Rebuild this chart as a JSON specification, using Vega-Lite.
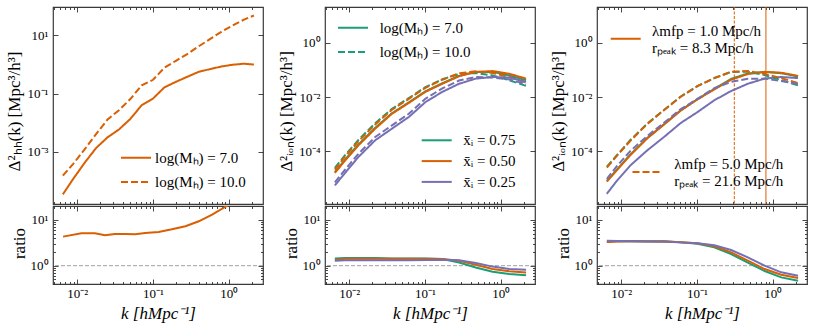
{
"$schema":"https://vega.github.io/schema/vega-lite/v6.json",
"padding":{"left":4,"top":5,"right":5,"bottom":5},
"background":"white",
"config":{
 "font":"Liberation Serif",
 "view":{"stroke":"#3a3a3a","strokeWidth":1.2},
 "axis":{"domain":false,"grid":false,"tickColor":"#333","tickWidth":0.9,"labelFont":"Liberation Serif","labelFontSize":13,"labelColor":"#000","labelPadding":10,"labelFlush":false,"labelOverlap":false,"titleFont":"Liberation Serif","titleFontSize":17,"titleFontWeight":"normal","titleColor":"#000","titleBaseline":"middle"},
 "axisBottom":{"labelPadding":8},
 "legend":{"labelFont":"Liberation Serif","labelFontSize":15,"labelColor":"#000","padding":0,"labelLimit":300}
},
"datasets":{
"p1":[
{"k":0.00646,"v":3.55e-5,"logM":"7.0"},{"k":0.00891,"v":1.23e-4,"logM":"7.0"},{"k":0.0126,"v":4.37e-4,"logM":"7.0"},{"k":0.0178,"v":1.38e-3,"logM":"7.0"},{"k":0.0251,"v":3.16e-3,"logM":"7.0"},{"k":0.0355,"v":5.89e-3,"logM":"7.0"},{"k":0.0501,"v":0.0135,"logM":"7.0"},{"k":0.0708,"v":0.0398,"logM":"7.0"},{"k":0.1,"v":0.0676,"logM":"7.0"},{"k":0.141,"v":0.162,"logM":"7.0"},{"k":0.2,"v":0.251,"logM":"7.0"},{"k":0.282,"v":0.372,"logM":"7.0"},{"k":0.398,"v":0.55,"logM":"7.0"},{"k":0.562,"v":0.682,"logM":"7.0"},{"k":0.794,"v":0.838,"logM":"7.0"},{"k":1.122,"v":0.966,"logM":"7.0"},{"k":1.585,"v":1.047,"logM":"7.0"},{"k":2.138,"v":0.977,"logM":"7.0"},
{"k":0.00646,"v":1.55e-4,"logM":"10.0"},{"k":0.00891,"v":3.98e-4,"logM":"10.0"},{"k":0.0126,"v":1.26e-3,"logM":"10.0"},{"k":0.0178,"v":4.17e-3,"logM":"10.0"},{"k":0.0251,"v":0.0129,"logM":"10.0"},{"k":0.0355,"v":0.0269,"logM":"10.0"},{"k":0.0501,"v":0.0646,"logM":"10.0"},{"k":0.0708,"v":0.1905,"logM":"10.0"},{"k":0.1,"v":0.295,"logM":"10.0"},{"k":0.141,"v":0.759,"logM":"10.0"},{"k":0.2,"v":1.318,"logM":"10.0"},{"k":0.282,"v":2.239,"logM":"10.0"},{"k":0.398,"v":4.074,"logM":"10.0"},{"k":0.562,"v":7.244,"logM":"10.0"},{"k":0.794,"v":12.88,"logM":"10.0"},{"k":1.122,"v":21.38,"logM":"10.0"},{"k":1.585,"v":33.88,"logM":"10.0"},{"k":2.138,"v":46.77,"logM":"10.0"}
],
"r1":[
{"k":0.0065,"r":4.32},{"k":0.01135,"r":5.1},{"k":0.0171,"r":5.1},{"k":0.0232,"r":4.62},{"k":0.0315,"r":4.94},{"k":0.0428,"r":4.94},{"k":0.0581,"r":4.86},{"k":0.0787,"r":5.2},{"k":0.1183,"r":5.47},{"k":0.1774,"r":6.25},{"k":0.2673,"r":7.28},{"k":0.401,"r":9.35},{"k":0.601,"r":13.09},{"k":0.906,"r":19.5},{"k":1.413,"r":29.5}
],
"p2":[
{"k":0.00646,"v":1.66e-5,"xi":"0.75","logM":"7.0"},{"k":0.00881,"v":4.79e-5,"xi":"0.75","logM":"7.0"},{"k":0.0132,"v":1.738e-4,"xi":"0.75","logM":"7.0"},{"k":0.022,"v":7.24e-4,"xi":"0.75","logM":"7.0"},{"k":0.0366,"v":2.51e-3,"xi":"0.75","logM":"7.0"},{"k":0.061,"v":6.31e-3,"xi":"0.75","logM":"7.0"},{"k":0.101,"v":0.0162,"xi":"0.75","logM":"7.0"},{"k":0.169,"v":0.0324,"xi":"0.75","logM":"7.0"},{"k":0.281,"v":0.0603,"xi":"0.75","logM":"7.0"},{"k":0.467,"v":0.0851,"xi":"0.75","logM":"7.0"},{"k":0.778,"v":0.0851,"xi":"0.75","logM":"7.0"},{"k":1.29,"v":0.0631,"xi":"0.75","logM":"7.0"},{"k":2.15,"v":0.0417,"xi":"0.75","logM":"7.0"},
{"k":0.00646,"v":2.4e-5,"xi":"0.75","logM":"10.0"},{"k":0.00881,"v":7.08e-5,"xi":"0.75","logM":"10.0"},{"k":0.0132,"v":2.57e-4,"xi":"0.75","logM":"10.0"},{"k":0.022,"v":1.072e-3,"xi":"0.75","logM":"10.0"},{"k":0.0366,"v":3.63e-3,"xi":"0.75","logM":"10.0"},{"k":0.061,"v":9.12e-3,"xi":"0.75","logM":"10.0"},{"k":0.101,"v":0.0232,"xi":"0.75","logM":"10.0"},{"k":0.169,"v":0.0454,"xi":"0.75","logM":"10.0"},{"k":0.281,"v":0.0708,"xi":"0.75","logM":"10.0"},{"k":0.467,"v":0.0776,"xi":"0.75","logM":"10.0"},{"k":0.778,"v":0.0631,"xi":"0.75","logM":"10.0"},{"k":1.29,"v":0.0417,"xi":"0.75","logM":"10.0"},{"k":2.15,"v":0.0257,"xi":"0.75","logM":"10.0"},
{"k":0.00646,"v":1.549e-5,"xi":"0.50","logM":"7.0"},{"k":0.00881,"v":4.47e-5,"xi":"0.50","logM":"7.0"},{"k":0.0132,"v":1.622e-4,"xi":"0.50","logM":"7.0"},{"k":0.022,"v":6.76e-4,"xi":"0.50","logM":"7.0"},{"k":0.0366,"v":2.4e-3,"xi":"0.50","logM":"7.0"},{"k":0.061,"v":6.03e-3,"xi":"0.50","logM":"7.0"},{"k":0.101,"v":0.0155,"xi":"0.50","logM":"7.0"},{"k":0.169,"v":0.0309,"xi":"0.50","logM":"7.0"},{"k":0.281,"v":0.0589,"xi":"0.50","logM":"7.0"},{"k":0.467,"v":0.0851,"xi":"0.50","logM":"7.0"},{"k":0.778,"v":0.0912,"xi":"0.50","logM":"7.0"},{"k":1.29,"v":0.0724,"xi":"0.50","logM":"7.0"},{"k":2.15,"v":0.0479,"xi":"0.50","logM":"7.0"},
{"k":0.00646,"v":2.04e-5,"xi":"0.50","logM":"10.0"},{"k":0.00881,"v":6.31e-5,"xi":"0.50","logM":"10.0"},{"k":0.0132,"v":2.29e-4,"xi":"0.50","logM":"10.0"},{"k":0.022,"v":9.55e-4,"xi":"0.50","logM":"10.0"},{"k":0.0366,"v":3.39e-3,"xi":"0.50","logM":"10.0"},{"k":0.061,"v":8.51e-3,"xi":"0.50","logM":"10.0"},{"k":0.101,"v":0.0219,"xi":"0.50","logM":"10.0"},{"k":0.169,"v":0.0437,"xi":"0.50","logM":"10.0"},{"k":0.281,"v":0.0759,"xi":"0.50","logM":"10.0"},{"k":0.467,"v":0.0891,"xi":"0.50","logM":"10.0"},{"k":0.778,"v":0.0776,"xi":"0.50","logM":"10.0"},{"k":1.29,"v":0.055,"xi":"0.50","logM":"10.0"},{"k":2.15,"v":0.0339,"xi":"0.50","logM":"10.0"},
{"k":0.00646,"v":5.37e-6,"xi":"0.25","logM":"7.0"},{"k":0.00881,"v":1.549e-5,"xi":"0.25","logM":"7.0"},{"k":0.0132,"v":6.03e-5,"xi":"0.25","logM":"7.0"},{"k":0.022,"v":2.51e-4,"xi":"0.25","logM":"7.0"},{"k":0.0366,"v":6.76e-4,"xi":"0.25","logM":"7.0"},{"k":0.061,"v":1.82e-3,"xi":"0.25","logM":"7.0"},{"k":0.101,"v":6.46e-3,"xi":"0.25","logM":"7.0"},{"k":0.169,"v":0.0155,"xi":"0.25","logM":"7.0"},{"k":0.281,"v":0.0309,"xi":"0.25","logM":"7.0"},{"k":0.467,"v":0.0479,"xi":"0.25","logM":"7.0"},{"k":0.778,"v":0.055,"xi":"0.25","logM":"7.0"},{"k":1.29,"v":0.0525,"xi":"0.25","logM":"7.0"},{"k":2.15,"v":0.0363,"xi":"0.25","logM":"7.0"},
{"k":0.00646,"v":6.92e-6,"xi":"0.25","logM":"10.0"},{"k":0.00881,"v":2.04e-5,"xi":"0.25","logM":"10.0"},{"k":0.0132,"v":7.94e-5,"xi":"0.25","logM":"10.0"},{"k":0.022,"v":3.31e-4,"xi":"0.25","logM":"10.0"},{"k":0.0366,"v":8.91e-4,"xi":"0.25","logM":"10.0"},{"k":0.061,"v":2.4e-3,"xi":"0.25","logM":"10.0"},{"k":0.101,"v":8.61e-3,"xi":"0.25","logM":"10.0"},{"k":0.169,"v":0.0209,"xi":"0.25","logM":"10.0"},{"k":0.281,"v":0.0407,"xi":"0.25","logM":"10.0"},{"k":0.467,"v":0.055,"xi":"0.25","logM":"10.0"},{"k":0.778,"v":0.0525,"xi":"0.25","logM":"10.0"},{"k":1.29,"v":0.0447,"xi":"0.25","logM":"10.0"},{"k":2.15,"v":0.0295,"xi":"0.25","logM":"10.0"}
],
"r2":[
{"k":0.00646,"r":1.445,"xi":"0.75"},{"k":0.00881,"r":1.479,"xi":"0.75"},{"k":0.0132,"r":1.479,"xi":"0.75"},{"k":0.022,"r":1.479,"xi":"0.75"},{"k":0.0366,"r":1.445,"xi":"0.75"},{"k":0.061,"r":1.445,"xi":"0.75"},{"k":0.101,"r":1.429,"xi":"0.75"},{"k":0.169,"r":1.403,"xi":"0.75"},{"k":0.281,"r":1.175,"xi":"0.75"},{"k":0.467,"r":0.912,"xi":"0.75"},{"k":0.778,"r":0.741,"xi":"0.75"},{"k":1.29,"r":0.661,"xi":"0.75"},{"k":2.15,"r":0.617,"xi":"0.75"},
{"k":0.00646,"r":1.334,"xi":"0.50"},{"k":0.00881,"r":1.413,"xi":"0.50"},{"k":0.0132,"r":1.413,"xi":"0.50"},{"k":0.022,"r":1.413,"xi":"0.50"},{"k":0.0366,"r":1.413,"xi":"0.50"},{"k":0.061,"r":1.413,"xi":"0.50"},{"k":0.101,"r":1.413,"xi":"0.50"},{"k":0.169,"r":1.403,"xi":"0.50"},{"k":0.281,"r":1.288,"xi":"0.50"},{"k":0.467,"r":1.047,"xi":"0.50"},{"k":0.778,"r":0.851,"xi":"0.50"},{"k":1.29,"r":0.759,"xi":"0.50"},{"k":2.15,"r":0.708,"xi":"0.50"},
{"k":0.00646,"r":1.288,"xi":"0.25"},{"k":0.00881,"r":1.318,"xi":"0.25"},{"k":0.0132,"r":1.318,"xi":"0.25"},{"k":0.022,"r":1.318,"xi":"0.25"},{"k":0.0366,"r":1.318,"xi":"0.25"},{"k":0.061,"r":1.318,"xi":"0.25"},{"k":0.101,"r":1.334,"xi":"0.25"},{"k":0.169,"r":1.349,"xi":"0.25"},{"k":0.281,"r":1.318,"xi":"0.25"},{"k":0.467,"r":1.148,"xi":"0.25"},{"k":0.778,"r":0.955,"xi":"0.25"},{"k":1.29,"r":0.851,"xi":"0.25"},{"k":2.15,"r":0.813,"xi":"0.25"}
],
"p3":[
{"k":0.00646,"v":7.94e-6,"xi":"0.75","lam":"1.0"},{"k":0.00881,"v":2.09e-5,"xi":"0.75","lam":"1.0"},{"k":0.0132,"v":7.41e-5,"xi":"0.75","lam":"1.0"},{"k":0.022,"v":3.02e-4,"xi":"0.75","lam":"1.0"},{"k":0.0366,"v":9.77e-4,"xi":"0.75","lam":"1.0"},{"k":0.061,"v":3.24e-3,"xi":"0.75","lam":"1.0"},{"k":0.101,"v":8.32e-3,"xi":"0.75","lam":"1.0"},{"k":0.169,"v":0.01995,"xi":"0.75","lam":"1.0"},{"k":0.281,"v":0.0468,"xi":"0.75","lam":"1.0"},{"k":0.467,"v":0.0741,"xi":"0.75","lam":"1.0"},{"k":0.778,"v":0.0851,"xi":"0.75","lam":"1.0"},{"k":1.29,"v":0.0759,"xi":"0.75","lam":"1.0"},{"k":2.15,"v":0.0575,"xi":"0.75","lam":"1.0"},
{"k":0.00646,"v":2.67e-5,"xi":"0.75","lam":"5.0"},{"k":0.00881,"v":7.16e-5,"xi":"0.75","lam":"5.0"},{"k":0.0132,"v":2.57e-4,"xi":"0.75","lam":"5.0"},{"k":0.022,"v":1.035e-3,"xi":"0.75","lam":"5.0"},{"k":0.0366,"v":3.33e-3,"xi":"0.75","lam":"5.0"},{"k":0.061,"v":0.01047,"xi":"0.75","lam":"5.0"},{"k":0.101,"v":0.0252,"xi":"0.75","lam":"5.0"},{"k":0.169,"v":0.0504,"xi":"0.75","lam":"5.0"},{"k":0.281,"v":0.0843,"xi":"0.75","lam":"5.0"},{"k":0.467,"v":0.0863,"xi":"0.75","lam":"5.0"},{"k":0.778,"v":0.0652,"xi":"0.75","lam":"5.0"},{"k":1.29,"v":0.0422,"xi":"0.75","lam":"5.0"},{"k":2.15,"v":0.0271,"xi":"0.75","lam":"5.0"},
{"k":0.00646,"v":7.41e-6,"xi":"0.50","lam":"1.0"},{"k":0.00881,"v":1.995e-5,"xi":"0.50","lam":"1.0"},{"k":0.0132,"v":7.08e-5,"xi":"0.50","lam":"1.0"},{"k":0.022,"v":2.95e-4,"xi":"0.50","lam":"1.0"},{"k":0.0366,"v":9.55e-4,"xi":"0.50","lam":"1.0"},{"k":0.061,"v":3.16e-3,"xi":"0.50","lam":"1.0"},{"k":0.101,"v":8.13e-3,"xi":"0.50","lam":"1.0"},{"k":0.169,"v":0.01905,"xi":"0.50","lam":"1.0"},{"k":0.281,"v":0.0437,"xi":"0.50","lam":"1.0"},{"k":0.467,"v":0.0708,"xi":"0.50","lam":"1.0"},{"k":0.778,"v":0.0851,"xi":"0.50","lam":"1.0"},{"k":1.29,"v":0.0794,"xi":"0.50","lam":"1.0"},{"k":2.15,"v":0.0603,"xi":"0.50","lam":"1.0"},
{"k":0.00646,"v":2.455e-5,"xi":"0.50","lam":"5.0"},{"k":0.00881,"v":6.76e-5,"xi":"0.50","lam":"5.0"},{"k":0.0132,"v":2.4e-4,"xi":"0.50","lam":"5.0"},{"k":0.022,"v":1.0e-3,"xi":"0.50","lam":"5.0"},{"k":0.0366,"v":3.24e-3,"xi":"0.50","lam":"5.0"},{"k":0.061,"v":0.01023,"xi":"0.50","lam":"5.0"},{"k":0.101,"v":0.0251,"xi":"0.50","lam":"5.0"},{"k":0.169,"v":0.0501,"xi":"0.50","lam":"5.0"},{"k":0.281,"v":0.0851,"xi":"0.50","lam":"5.0"},{"k":0.467,"v":0.0912,"xi":"0.50","lam":"5.0"},{"k":0.778,"v":0.0724,"xi":"0.50","lam":"5.0"},{"k":1.29,"v":0.0501,"xi":"0.50","lam":"5.0"},{"k":2.15,"v":0.0324,"xi":"0.50","lam":"5.0"},
{"k":0.00646,"v":2.63e-6,"xi":"0.25","lam":"1.0"},{"k":0.00881,"v":8.13e-6,"xi":"0.25","lam":"1.0"},{"k":0.0132,"v":2.95e-5,"xi":"0.25","lam":"1.0"},{"k":0.022,"v":1.059e-4,"xi":"0.25","lam":"1.0"},{"k":0.0366,"v":3.31e-4,"xi":"0.25","lam":"1.0"},{"k":0.061,"v":1.096e-3,"xi":"0.25","lam":"1.0"},{"k":0.101,"v":2.75e-3,"xi":"0.25","lam":"1.0"},{"k":0.169,"v":7.59e-3,"xi":"0.25","lam":"1.0"},{"k":0.281,"v":0.0166,"xi":"0.25","lam":"1.0"},{"k":0.467,"v":0.0309,"xi":"0.25","lam":"1.0"},{"k":0.778,"v":0.0479,"xi":"0.25","lam":"1.0"},{"k":1.29,"v":0.055,"xi":"0.25","lam":"1.0"},{"k":2.15,"v":0.0501,"xi":"0.25","lam":"1.0"},
{"k":0.00646,"v":9.27e-6,"xi":"0.25","lam":"5.0"},{"k":0.00881,"v":2.82e-5,"xi":"0.25","lam":"5.0"},{"k":0.0132,"v":1.007e-4,"xi":"0.25","lam":"5.0"},{"k":0.022,"v":3.59e-4,"xi":"0.25","lam":"5.0"},{"k":0.0366,"v":1.112e-3,"xi":"0.25","lam":"5.0"},{"k":0.061,"v":3.55e-3,"xi":"0.25","lam":"5.0"},{"k":0.101,"v":8.49e-3,"xi":"0.25","lam":"5.0"},{"k":0.169,"v":0.0212,"xi":"0.25","lam":"5.0"},{"k":0.281,"v":0.0366,"xi":"0.25","lam":"5.0"},{"k":0.467,"v":0.0471,"xi":"0.25","lam":"5.0"},{"k":0.778,"v":0.0479,"xi":"0.25","lam":"5.0"},{"k":1.29,"v":0.0394,"xi":"0.25","lam":"5.0"},{"k":2.15,"v":0.0303,"xi":"0.25","lam":"5.0"}
],
"r3":[
{"k":0.00646,"r":3.357,"xi":"0.75"},{"k":0.00881,"r":3.428,"xi":"0.75"},{"k":0.0132,"r":3.467,"xi":"0.75"},{"k":0.022,"r":3.428,"xi":"0.75"},{"k":0.0366,"r":3.412,"xi":"0.75"},{"k":0.061,"r":3.236,"xi":"0.75"},{"k":0.101,"r":3.034,"xi":"0.75"},{"k":0.169,"r":2.523,"xi":"0.75"},{"k":0.281,"r":1.803,"xi":"0.75"},{"k":0.467,"r":1.164,"xi":"0.75"},{"k":0.778,"r":0.766,"xi":"0.75"},{"k":1.29,"r":0.556,"xi":"0.75"},{"k":2.15,"r":0.471,"xi":"0.75"},
{"k":0.00646,"r":3.296,"xi":"0.50"},{"k":0.00881,"r":3.388,"xi":"0.50"},{"k":0.0132,"r":3.412,"xi":"0.50"},{"k":0.022,"r":3.388,"xi":"0.50"},{"k":0.0366,"r":3.412,"xi":"0.50"},{"k":0.061,"r":3.273,"xi":"0.50"},{"k":0.101,"r":3.083,"xi":"0.50"},{"k":0.169,"r":2.655,"xi":"0.50"},{"k":0.281,"r":1.959,"xi":"0.50"},{"k":0.467,"r":1.288,"xi":"0.50"},{"k":0.778,"r":0.845,"xi":"0.50"},{"k":1.29,"r":0.637,"xi":"0.50"},{"k":2.15,"r":0.537,"xi":"0.50"},
{"k":0.00646,"r":3.524,"xi":"0.25"},{"k":0.00881,"r":3.467,"xi":"0.25"},{"k":0.0132,"r":3.412,"xi":"0.25"},{"k":0.022,"r":3.388,"xi":"0.25"},{"k":0.0366,"r":3.357,"xi":"0.25"},{"k":0.061,"r":3.236,"xi":"0.25"},{"k":0.101,"r":3.083,"xi":"0.25"},{"k":0.169,"r":2.793,"xi":"0.25"},{"k":0.281,"r":2.203,"xi":"0.25"},{"k":0.467,"r":1.524,"xi":"0.25"},{"k":0.778,"r":1.0,"xi":"0.25"},{"k":1.29,"r":0.716,"xi":"0.25"},{"k":2.15,"r":0.605,"xi":"0.25"}
],
"vl":[{"k":0.31,"lam":"5.0"},{"k":0.81,"lam":"1.0"}],
"ref":[{"r":1}]
},
"vconcat":[
{"hconcat":[
 {"width":210,"height":197,"data":{"name":"p1"},
  "layer":[
   {"mark":{"type":"line","color":"#d95f02","strokeWidth":2,"clip":true},
    "encoding":{
     "x":{"field":"k","type":"quantitative","scale":{"type":"log","domain":[0.00479,2.82],"nice":false},"axis":{"values":[0.005,0.006,0.007,0.008,0.009,0.01,0.02,0.03,0.04,0.05,0.06,0.07,0.08,0.09,0.1,0.2,0.3,0.4,0.5,0.6,0.7,0.8,0.9,1,2],"labels":false,"title":null,"minExtent":0,"maxExtent":0,"tickSize":{"condition":{"test":"abs(log(datum.value)/LN10-round(log(datum.value)/LN10))<0.001","value":-5},"value":-2.5}}},
     "y":{"field":"v","type":"quantitative","scale":{"type":"log","domain":[1.66e-5,91.2],"nice":false},"axis":{"values":[0.001,0.1,10],"labelExpr":"'10'+(round(log(datum.value)/LN10)<0?'⁻':'')+['⁰','¹','²','³','⁴','⁵','⁶'][abs(round(log(datum.value)/LN10))]","title":"Δ²ₕₕ(k) [Mpc³/h³]","titleX":-39,"titleY":104,"tickSize":-5}},
     "strokeDash":{"field":"logM","type":"nominal","scale":{"domain":["7.0","10.0"],"range":[[1,0],[7,3]]},"legend":{"orient":"none","legendX":74.5,"legendY":142.2,"title":null,"symbolType":"M-2,0H2","symbolSize":225,"symbolStrokeWidth":2,"symbolStrokeColor":"#d95f02","symbolFillColor":"transparent","labelOffset":10.5,"rowPadding":7.3,"labelExpr":"'log(Mₕ) = ' + datum.label"}}
    }},
   {"mark":{"type":"point","opacity":0},
    "encoding":{
     "x":{"field":"k","type":"quantitative","scale":{"type":"log","domain":[0.00479,2.82],"nice":false},"axis":{"orient":"top","values":[0.005,0.006,0.007,0.008,0.009,0.01,0.02,0.03,0.04,0.05,0.06,0.07,0.08,0.09,0.1,0.2,0.3,0.4,0.5,0.6,0.7,0.8,0.9,1,2],"labels":false,"title":null,"minExtent":0,"maxExtent":0,"tickSize":{"condition":{"test":"abs(log(datum.value)/LN10-round(log(datum.value)/LN10))<0.001","value":-5},"value":-2.5}}},
     "y":{"field":"v","type":"quantitative","scale":{"type":"log","domain":[1.66e-5,91.2],"nice":false},"axis":{"orient":"right","values":[0.001,0.1,10],"labels":false,"title":null,"minExtent":0,"maxExtent":0,"tickSize":-5}}
    }}
  ],
  "resolve":{"axis":{"x":"independent","y":"independent"}}
 },
 {"width":210,"height":197,"data":{"name":"p2"},
  "layer":[
   {"mark":{"type":"line","strokeWidth":2,"clip":true},
    "encoding":{
     "x":{"field":"k","type":"quantitative","scale":{"type":"log","domain":[0.00479,2.82],"nice":false},"axis":{"values":[0.005,0.006,0.007,0.008,0.009,0.01,0.02,0.03,0.04,0.05,0.06,0.07,0.08,0.09,0.1,0.2,0.3,0.4,0.5,0.6,0.7,0.8,0.9,1,2],"labels":false,"title":null,"minExtent":0,"maxExtent":0,"tickSize":{"condition":{"test":"abs(log(datum.value)/LN10-round(log(datum.value)/LN10))<0.001","value":-5},"value":-2.5}}},
     "y":{"field":"v","type":"quantitative","scale":{"type":"log","domain":[1.1e-6,21.4],"nice":false},"axis":{"values":[0.0001,0.01,1],"labelExpr":"'10'+(round(log(datum.value)/LN10)<0?'⁻':'')+['⁰','¹','²','³','⁴','⁵','⁶'][abs(round(log(datum.value)/LN10))]","title":"Δ²ᵢₒₙ(k) [Mpc³/h³]","titleX":-39,"titleY":104,"tickSize":-5}},
     "color":{"field":"xi","type":"nominal","scale":{"domain":["0.75","0.50","0.25"],"range":["#1b9e77","#d95f02","#7570b3"]},"legend":{"orient":"none","legendX":103.2,"legendY":124.8,"title":null,"symbolType":"M-2,0H2","symbolSize":225,"symbolStrokeWidth":2,"symbolFillColor":"transparent","labelOffset":18.1,"rowPadding":3.8,"labelExpr":"'x̄ᵢ = ' + datum.label"}},
     "strokeDash":{"field":"logM","type":"nominal","scale":{"domain":["7.0","10.0"],"range":[[1,0],[7,3]]},"legend":{"orient":"none","legendX":19.5,"legendY":12.2,"title":null,"symbolType":"M-2,0H2","symbolSize":225,"symbolStrokeWidth":2,"symbolStrokeColor":"#1b9e77","symbolFillColor":"transparent","labelOffset":18.2,"rowPadding":7.3,"labelExpr":"'log(Mₕ) = ' + datum.label"}}
    }},
   {"mark":{"type":"point","opacity":0},
    "encoding":{
     "x":{"field":"k","type":"quantitative","scale":{"type":"log","domain":[0.00479,2.82],"nice":false},"axis":{"orient":"top","values":[0.005,0.006,0.007,0.008,0.009,0.01,0.02,0.03,0.04,0.05,0.06,0.07,0.08,0.09,0.1,0.2,0.3,0.4,0.5,0.6,0.7,0.8,0.9,1,2],"labels":false,"title":null,"minExtent":0,"maxExtent":0,"tickSize":{"condition":{"test":"abs(log(datum.value)/LN10-round(log(datum.value)/LN10))<0.001","value":-5},"value":-2.5}}},
     "y":{"field":"v","type":"quantitative","scale":{"type":"log","domain":[1.1e-6,21.4],"nice":false},"axis":{"orient":"right","values":[0.0001,0.01,1],"labels":false,"title":null,"minExtent":0,"maxExtent":0,"tickSize":-5}}
    }}
  ],
  "resolve":{"axis":{"x":"independent","y":"independent"}}
 },
 {"width":210,"height":197,"data":{"name":"p3"},
  "layer":[
   {"data":{"name":"vl"},"transform":[{"filter":"datum.lam == '5.0'"}],"mark":{"type":"rule","color":"#d95f02","strokeWidth":1,"strokeDash":[3,1.5]},
    "encoding":{"x":{"field":"k","type":"quantitative","scale":{"type":"log","domain":[0.00479,2.82],"nice":false},"axis":null}}},
   {"data":{"name":"vl"},"transform":[{"filter":"datum.lam == '1.0'"}],"mark":{"type":"rule","color":"#d95f02","strokeWidth":1},
    "encoding":{"x":{"field":"k","type":"quantitative","scale":{"type":"log","domain":[0.00479,2.82],"nice":false},"axis":null}}},
   {"transform":[{"filter":"datum.lam == '1.0'"}],"mark":{"type":"line","strokeWidth":2,"clip":true},
    "encoding":{
     "x":{"field":"k","type":"quantitative","scale":{"type":"log","domain":[0.00479,2.82],"nice":false},"axis":{"values":[0.005,0.006,0.007,0.008,0.009,0.01,0.02,0.03,0.04,0.05,0.06,0.07,0.08,0.09,0.1,0.2,0.3,0.4,0.5,0.6,0.7,0.8,0.9,1,2],"labels":false,"title":null,"minExtent":0,"maxExtent":0,"tickSize":{"condition":{"test":"abs(log(datum.value)/LN10-round(log(datum.value)/LN10))<0.001","value":-5},"value":-2.5}}},
     "y":{"field":"v","type":"quantitative","scale":{"type":"log","domain":[1.1e-6,21.4],"nice":false},"axis":{"values":[0.0001,0.01,1],"labelExpr":"'10'+(round(log(datum.value)/LN10)<0?'⁻':'')+['⁰','¹','²','³','⁴','⁵','⁶'][abs(round(log(datum.value)/LN10))]","title":"Δ²ᵢₒₙ(k) [Mpc³/h³]","titleX":-39,"titleY":104,"tickSize":-5}},
     "color":{"field":"xi","type":"nominal","scale":{"domain":["0.75","0.50","0.25"],"range":["#1b9e77","#d95f02","#7570b3"]},"legend":null},
     "strokeDash":{"field":"lam","type":"nominal","scale":{"domain":["1.0"],"range":[[1,0]]},"legend":{"orient":"none","legendX":20.2,"legendY":23.2,"title":null,"symbolType":"M-2,0H2","symbolSize":225,"symbolStrokeWidth":2,"symbolStrokeColor":"#d95f02","symbolFillColor":"transparent","labelOffset":17.8,"labelBaseline":"bottom","labelExpr":"['λmfp = 1.0 Mpc/h', 'rₚₑₐₖ = 8.3 Mpc/h']"}}
    }},
   {"transform":[{"filter":"datum.lam == '5.0'"}],"mark":{"type":"line","strokeWidth":2,"clip":true},
    "encoding":{
     "x":{"field":"k","type":"quantitative","scale":{"type":"log","domain":[0.00479,2.82],"nice":false},"axis":null},
     "y":{"field":"v","type":"quantitative","scale":{"type":"log","domain":[1.1e-6,21.4],"nice":false},"axis":null},
     "color":{"field":"xi","type":"nominal","scale":{"domain":["0.75","0.50","0.25"],"range":["#1b9e77","#d95f02","#7570b3"]},"legend":null},
     "strokeDash":{"field":"lam","type":"nominal","scale":{"domain":["5.0"],"range":[[7,3]]},"legend":{"orient":"none","legendX":42,"legendY":156.5,"title":null,"symbolType":"M-2,0H2","symbolSize":225,"symbolStrokeWidth":2,"symbolStrokeColor":"#d95f02","symbolFillColor":"transparent","labelOffset":18.3,"labelBaseline":"bottom","labelExpr":"['λmfp = 5.0 Mpc/h', 'rₚₑₐₖ = 21.6 Mpc/h']"}}
    }},
   {"mark":{"type":"point","opacity":0},
    "encoding":{
     "x":{"field":"k","type":"quantitative","scale":{"type":"log","domain":[0.00479,2.82],"nice":false},"axis":{"orient":"top","values":[0.005,0.006,0.007,0.008,0.009,0.01,0.02,0.03,0.04,0.05,0.06,0.07,0.08,0.09,0.1,0.2,0.3,0.4,0.5,0.6,0.7,0.8,0.9,1,2],"labels":false,"title":null,"minExtent":0,"maxExtent":0,"tickSize":{"condition":{"test":"abs(log(datum.value)/LN10-round(log(datum.value)/LN10))<0.001","value":-5},"value":-2.5}}},
     "y":{"field":"v","type":"quantitative","scale":{"type":"log","domain":[1.1e-6,21.4],"nice":false},"axis":{"orient":"right","values":[0.0001,0.01,1],"labels":false,"title":null,"minExtent":0,"maxExtent":0,"tickSize":-5}}
    }}
  ],
  "resolve":{"scale":{"strokeDash":"independent"},"legend":{"strokeDash":"independent"},"axis":{"x":"independent","y":"independent"}}
 }
],"spacing":62,"bounds":"flush","resolve":{"scale":{"color":"independent","strokeDash":"independent"},"legend":{"color":"independent","strokeDash":"independent"}}},
{"hconcat":[
 {"width":210,"height":78,
  "layer":[
   {"data":{"name":"ref"},"mark":{"type":"rule","color":"#888","strokeWidth":0.8,"strokeDash":[4,2]},
    "encoding":{"y":{"field":"r","type":"quantitative","scale":{"type":"log","domain":[0.398,20.2],"nice":false},"axis":null}}},
   {"data":{"name":"r1"},"mark":{"type":"line","color":"#d95f02","strokeWidth":2,"clip":true},
    "encoding":{
     "x":{"field":"k","type":"quantitative","scale":{"type":"log","domain":[0.00479,2.82],"nice":false},"axis":{"values":[0.005,0.006,0.007,0.008,0.009,0.01,0.02,0.03,0.04,0.05,0.06,0.07,0.08,0.09,0.1,0.2,0.3,0.4,0.5,0.6,0.7,0.8,0.9,1,2],"labelExpr":"abs(log(datum.value)/LN10-round(log(datum.value)/LN10))<0.001 ? '10'+(round(log(datum.value)/LN10)<0?'⁻':'')+['⁰','¹','²','³','⁴','⁵','⁶'][abs(round(log(datum.value)/LN10))] : ''","title":"k [hMpc⁻¹]","titleFontStyle":"italic","titleX":105,"titleY":29,"tickSize":{"condition":{"test":"abs(log(datum.value)/LN10-round(log(datum.value)/LN10))<0.001","value":-5},"value":-2.5}}},
     "y":{"field":"r","type":"quantitative","scale":{"type":"log","domain":[0.398,20.2],"nice":false},"axis":{"values":[0.5,0.6,0.7,0.8,0.9,1,2,3,4,5,6,7,8,9,10],"labelExpr":"abs(log(datum.value)/LN10-round(log(datum.value)/LN10))<0.001 ? '10'+(round(log(datum.value)/LN10)<0?'⁻':'')+['⁰','¹','²','³','⁴','⁵','⁶'][abs(round(log(datum.value)/LN10))] : ''","title":"ratio","titleX":-34,"titleY":37,"tickSize":{"condition":{"test":"abs(log(datum.value)/LN10-round(log(datum.value)/LN10))<0.001","value":-5},"value":-2.5}}}
    }},
   {"data":{"name":"r1"},"mark":{"type":"point","opacity":0},
    "encoding":{
     "x":{"field":"k","type":"quantitative","scale":{"type":"log","domain":[0.00479,2.82],"nice":false},"axis":{"orient":"top","values":[0.005,0.006,0.007,0.008,0.009,0.01,0.02,0.03,0.04,0.05,0.06,0.07,0.08,0.09,0.1,0.2,0.3,0.4,0.5,0.6,0.7,0.8,0.9,1,2],"labels":false,"title":null,"minExtent":0,"maxExtent":0,"tickSize":{"condition":{"test":"abs(log(datum.value)/LN10-round(log(datum.value)/LN10))<0.001","value":-5},"value":-2.5}}},
     "y":{"field":"r","type":"quantitative","scale":{"type":"log","domain":[0.398,20.2],"nice":false},"axis":{"orient":"right","values":[0.4,0.5,0.6,0.7,0.8,0.9,1,2,3,4,5,6,7,8,9,10,20],"labels":false,"title":null,"minExtent":0,"maxExtent":0,"tickSize":{"condition":{"test":"abs(log(datum.value)/LN10-round(log(datum.value)/LN10))<0.001","value":-5},"value":-2.5}}}
    }}
  ],
  "resolve":{"axis":{"x":"independent","y":"independent"}}
 },
 {"width":210,"height":78,
  "layer":[
   {"data":{"name":"ref"},"mark":{"type":"rule","color":"#888","strokeWidth":0.8,"strokeDash":[4,2]},
    "encoding":{"y":{"field":"r","type":"quantitative","scale":{"type":"log","domain":[0.398,20.2],"nice":false},"axis":null}}},
   {"data":{"name":"r2"},"mark":{"type":"line","strokeWidth":2,"clip":true},
    "encoding":{
     "x":{"field":"k","type":"quantitative","scale":{"type":"log","domain":[0.00479,2.82],"nice":false},"axis":{"values":[0.005,0.006,0.007,0.008,0.009,0.01,0.02,0.03,0.04,0.05,0.06,0.07,0.08,0.09,0.1,0.2,0.3,0.4,0.5,0.6,0.7,0.8,0.9,1,2],"labelExpr":"abs(log(datum.value)/LN10-round(log(datum.value)/LN10))<0.001 ? '10'+(round(log(datum.value)/LN10)<0?'⁻':'')+['⁰','¹','²','³','⁴','⁵','⁶'][abs(round(log(datum.value)/LN10))] : ''","title":"k [hMpc⁻¹]","titleFontStyle":"italic","titleX":105,"titleY":29,"tickSize":{"condition":{"test":"abs(log(datum.value)/LN10-round(log(datum.value)/LN10))<0.001","value":-5},"value":-2.5}}},
     "y":{"field":"r","type":"quantitative","scale":{"type":"log","domain":[0.398,20.2],"nice":false},"axis":{"values":[0.5,0.6,0.7,0.8,0.9,1,2,3,4,5,6,7,8,9,10],"labelExpr":"abs(log(datum.value)/LN10-round(log(datum.value)/LN10))<0.001 ? '10'+(round(log(datum.value)/LN10)<0?'⁻':'')+['⁰','¹','²','³','⁴','⁵','⁶'][abs(round(log(datum.value)/LN10))] : ''","title":"ratio","titleX":-34,"titleY":37,"tickSize":{"condition":{"test":"abs(log(datum.value)/LN10-round(log(datum.value)/LN10))<0.001","value":-5},"value":-2.5}}},
     "color":{"field":"xi","type":"nominal","scale":{"domain":["0.75","0.50","0.25"],"range":["#1b9e77","#d95f02","#7570b3"]},"legend":null}
    }},
   {"data":{"name":"r2"},"mark":{"type":"point","opacity":0},
    "encoding":{
     "x":{"field":"k","type":"quantitative","scale":{"type":"log","domain":[0.00479,2.82],"nice":false},"axis":{"orient":"top","values":[0.005,0.006,0.007,0.008,0.009,0.01,0.02,0.03,0.04,0.05,0.06,0.07,0.08,0.09,0.1,0.2,0.3,0.4,0.5,0.6,0.7,0.8,0.9,1,2],"labels":false,"title":null,"minExtent":0,"maxExtent":0,"tickSize":{"condition":{"test":"abs(log(datum.value)/LN10-round(log(datum.value)/LN10))<0.001","value":-5},"value":-2.5}}},
     "y":{"field":"r","type":"quantitative","scale":{"type":"log","domain":[0.398,20.2],"nice":false},"axis":{"orient":"right","values":[0.4,0.5,0.6,0.7,0.8,0.9,1,2,3,4,5,6,7,8,9,10,20],"labels":false,"title":null,"minExtent":0,"maxExtent":0,"tickSize":{"condition":{"test":"abs(log(datum.value)/LN10-round(log(datum.value)/LN10))<0.001","value":-5},"value":-2.5}}}
    }}
  ],
  "resolve":{"axis":{"x":"independent","y":"independent"}}
 },
 {"width":210,"height":78,
  "layer":[
   {"data":{"name":"ref"},"mark":{"type":"rule","color":"#888","strokeWidth":0.8,"strokeDash":[4,2]},
    "encoding":{"y":{"field":"r","type":"quantitative","scale":{"type":"log","domain":[0.398,20.2],"nice":false},"axis":null}}},
   {"data":{"name":"r3"},"mark":{"type":"line","strokeWidth":2,"clip":true},
    "encoding":{
     "x":{"field":"k","type":"quantitative","scale":{"type":"log","domain":[0.00479,2.82],"nice":false},"axis":{"values":[0.005,0.006,0.007,0.008,0.009,0.01,0.02,0.03,0.04,0.05,0.06,0.07,0.08,0.09,0.1,0.2,0.3,0.4,0.5,0.6,0.7,0.8,0.9,1,2],"labelExpr":"abs(log(datum.value)/LN10-round(log(datum.value)/LN10))<0.001 ? '10'+(round(log(datum.value)/LN10)<0?'⁻':'')+['⁰','¹','²','³','⁴','⁵','⁶'][abs(round(log(datum.value)/LN10))] : ''","title":"k [hMpc⁻¹]","titleFontStyle":"italic","titleX":105,"titleY":29,"tickSize":{"condition":{"test":"abs(log(datum.value)/LN10-round(log(datum.value)/LN10))<0.001","value":-5},"value":-2.5}}},
     "y":{"field":"r","type":"quantitative","scale":{"type":"log","domain":[0.398,20.2],"nice":false},"axis":{"values":[0.5,0.6,0.7,0.8,0.9,1,2,3,4,5,6,7,8,9,10],"labelExpr":"abs(log(datum.value)/LN10-round(log(datum.value)/LN10))<0.001 ? '10'+(round(log(datum.value)/LN10)<0?'⁻':'')+['⁰','¹','²','³','⁴','⁵','⁶'][abs(round(log(datum.value)/LN10))] : ''","title":"ratio","titleX":-34,"titleY":37,"tickSize":{"condition":{"test":"abs(log(datum.value)/LN10-round(log(datum.value)/LN10))<0.001","value":-5},"value":-2.5}}},
     "color":{"field":"xi","type":"nominal","scale":{"domain":["0.75","0.50","0.25"],"range":["#1b9e77","#d95f02","#7570b3"]},"legend":null}
    }},
   {"data":{"name":"r3"},"mark":{"type":"point","opacity":0},
    "encoding":{
     "x":{"field":"k","type":"quantitative","scale":{"type":"log","domain":[0.00479,2.82],"nice":false},"axis":{"orient":"top","values":[0.005,0.006,0.007,0.008,0.009,0.01,0.02,0.03,0.04,0.05,0.06,0.07,0.08,0.09,0.1,0.2,0.3,0.4,0.5,0.6,0.7,0.8,0.9,1,2],"labels":false,"title":null,"minExtent":0,"maxExtent":0,"tickSize":{"condition":{"test":"abs(log(datum.value)/LN10-round(log(datum.value)/LN10))<0.001","value":-5},"value":-2.5}}},
     "y":{"field":"r","type":"quantitative","scale":{"type":"log","domain":[0.398,20.2],"nice":false},"axis":{"orient":"right","values":[0.4,0.5,0.6,0.7,0.8,0.9,1,2,3,4,5,6,7,8,9,10,20],"labels":false,"title":null,"minExtent":0,"maxExtent":0,"tickSize":{"condition":{"test":"abs(log(datum.value)/LN10-round(log(datum.value)/LN10))<0.001","value":-5},"value":-2.5}}}
    }}
  ],
  "resolve":{"axis":{"x":"independent","y":"independent"}}
 }
],"spacing":62,"bounds":"flush","resolve":{"scale":{"color":"independent","strokeDash":"independent"},"legend":{"color":"independent","strokeDash":"independent"}}}
],
"spacing":-14,
"resolve":{"scale":{"color":"independent","strokeDash":"independent"},"legend":{"color":"independent","strokeDash":"independent"}}
}
